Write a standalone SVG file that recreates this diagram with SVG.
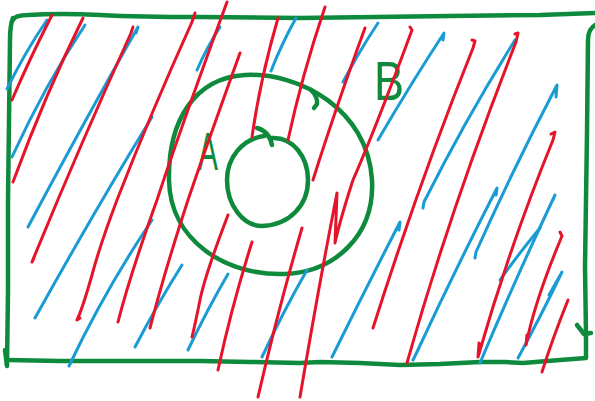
<svg xmlns="http://www.w3.org/2000/svg" width="595" height="401" viewBox="0 0 595 401">
<style>
.g{fill:none;stroke:#0e8a3c;stroke-width:4.5;stroke-linecap:round;stroke-linejoin:round}
.r{fill:none;stroke:#e5142b;stroke-width:3;stroke-linecap:round;stroke-linejoin:round}
.b{fill:none;stroke:#199bd5;stroke-width:3;stroke-linecap:round;stroke-linejoin:round}
.t{font-family:"Liberation Sans",Arial,sans-serif;fill:#0e8a3c}
</style>
<rect width="595" height="401" fill="#ffffff"/>
<g id="frame">
<path class="g" d="M 13,20 Q 15,15 28,15 Q 60,13 100,15 Q 140,17 200,17 L 300,18 L 450,16 L 540,15 L 597,13"/>
<path class="g" d="M 13,18 Q 10,25 10,40 L 9,120 L 8,200 L 8,290 L 7,365"/>
<path class="g" d="M 5,350 L 7,366"/>
<path class="g" d="M 597,24 Q 588,28 588,40 L 587,133 L 586,200 L 585,267 L 586,335 L 586,358 L 560,360 L 523,363 L 505,362 L 480,362 L 440,364 L 400,365 L 360,363 L 320,362 L 300,363 L 250,362 L 200,361 L 120,361 L 60,361 L 8,360"/>
<path class="g" d="M 577,325 L 584,334 L 591,333"/>
</g>
<g id="circleA">
<path class="g" d="M 169,180 C 168,120 195,78 245,75 C 300,72 368,110 372,180 C 375,235 335,272 285,274 C 225,276 170,240 169,180 Z"/>
<path class="g" d="M 311,90 Q 318,97 317,104 L 314,108"/>
<text class="t" x="198" y="170" font-size="53" textLength="20" lengthAdjust="spacingAndGlyphs">A</text>
</g>
<g id="circleC">
<path class="g" d="M 264,136 C 242,139 227,158 227,180 C 227,205 243,226 262,226 C 290,225 308,205 308,180 C 308,157 293,137 272,138"/>
<path class="g" d="M 257,128 Q 269,131 272,145"/>
</g>
<g id="labelB">
<text class="t" x="374" y="100" font-size="56" textLength="30" lengthAdjust="spacingAndGlyphs">B</text>
</g>
<g id="blue">
<path class="b" d="M 7,89 Q 25,52 47,20 L 45,26"/>
<path class="b" d="M 12,157 Q 45,85 85,25"/>
<path class="b" d="M 28,227 Q 85,120 138,27 L 136,33"/>
<path class="b" d="M 35,318 Q 95,210 152,117"/>
<path class="b" d="M 69,366 Q 105,290 152,220"/>
<path class="b" d="M 135,347 Q 158,303 182,265"/>
<path class="b" d="M 188,350 Q 207,310 228,274"/>
<path class="b" d="M 197,70 Q 207,47 220,27"/>
<path class="b" d="M 271,71 Q 282,43 296,18"/>
<path class="b" d="M 343,82 Q 360,50 378,23"/>
<path class="b" d="M 378,140 Q 410,85 444,33 L 443,40"/>
<path class="b" d="M 262,357 Q 283,312 307,270"/>
<path class="b" d="M 332,357 Q 365,290 400,222 L 399,230"/>
<path class="b" d="M 413,360 L 416,354 Q 455,270 497,188 L 496,195"/>
<path class="b" d="M 475,258 L 476,252 Q 515,165 557,85 L 556,97"/>
<path class="b" d="M 480,363 Q 515,280 555,195 L 553,200"/>
<path class="b" d="M 500,280 Q 520,252 540,228"/>
<path class="b" d="M 518,358 Q 540,318 562,272 L 549,295"/>
<path class="b" d="M 423,208 L 424,202 Q 465,120 515,40 L 512,45"/>
</g>
<g id="red">
<path class="r" d="M 52,15 L 50,19 Q 30,58 12,100"/>
<path class="r" d="M 83,18 Q 45,95 13,182"/>
<path class="r" d="M 133,27 L 131,33 Q 80,145 32,262 L 34,258"/>
<path class="r" d="M 195,13 L 192,22 Q 150,115 117,200 Q 100,245 92,275 Q 82,310 77,320 L 80,318"/>
<path class="r" d="M 227,2 Q 180,130 157,200 Q 130,275 118,322"/>
<path class="r" d="M 240,53 Q 205,150 188,200 Q 165,270 150,328"/>
<path class="r" d="M 228,215 Q 205,275 200,300 Q 195,325 192,337"/>
<path class="r" d="M 252,242 Q 232,305 218,370"/>
<path class="r" d="M 302,228 Q 278,310 258,397"/>
<path class="r" d="M 278,18 Q 260,80 252,137"/>
<path class="r" d="M 325,7 Q 302,75 288,140"/>
<path class="r" d="M 365,28 Q 335,110 313,180"/>
<path class="r" d="M 410,27 L 412,30 Q 375,130 353,180 Q 340,220 335,243 L 337,193 Q 318,290 300,397"/>
<path class="r" d="M 472,40 L 475,41 L 473,48 Q 420,180 373,328"/>
<path class="r" d="M 515,34 L 518,33 L 516,42 Q 450,210 407,363"/>
<path class="r" d="M 551,134 L 555,132 L 553,140 Q 510,245 478,357 L 479,343"/>
<path class="r" d="M 560,232 L 562,236 Q 535,300 526,345 L 527,335"/>
<path class="r" d="M 568,300 Q 552,340 542,372"/>
</g>
</svg>
